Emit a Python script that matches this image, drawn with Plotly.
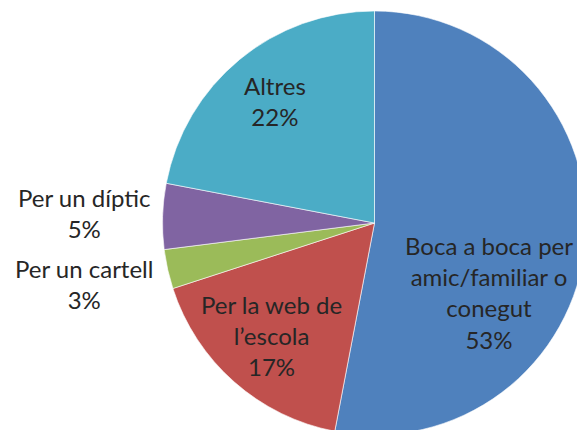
import plotly.graph_objects as go

# How respondents heard about the school
categories = [
    "Boca a boca per<br>amic/familiar o<br>conegut",
    "Per la web de<br>l\u2019escola",
    "Per un cartell",
    "Per un d\u00edptic",
    "Altres",
]
values = [53, 17, 3, 5, 22]
colors = ["#4F81BD", "#C0504D", "#9BBB59", "#8064A2", "#4BACC6"]

# label block centres in pixels (x, y from top)
label_pos = [(489, 292), (271, 335), (84, 284), (84, 213), (275, 101)]

W, H = 600, 440
cx, cy, r = 374.5, 223, 212

fig = go.Figure(
    go.Pie(
        labels=categories,
        values=values,
        sort=False,
        direction="clockwise",
        rotation=0,
        marker=dict(colors=colors, line=dict(color="white", width=0.6)),
        textinfo="none",
        hoverinfo="label+percent",
        showlegend=False,
        domain=dict(x=[(cx - r) / W, (cx + r) / W], y=[1 - (cy + r) / H, 1 - (cy - r) / H]),
    )
)

total = sum(values)
for name, v, (px, py) in zip(categories, values, label_pos):
    fig.add_annotation(
        text=f"{name}<br>{round(100 * v / total)}%",
        x=px / W,
        y=1 - py / H,
        xref="paper",
        yref="paper",
        xanchor="center",
        yanchor="middle",
        showarrow=False,
        align="center",
        font=dict(family="Lato", size=24, color="#262626"),
    )

fig.update_layout(
    width=W,
    height=H,
    margin=dict(l=0, r=0, t=0, b=0),
    paper_bgcolor="white",
    plot_bgcolor="white",
)

fig.write_html(
    "out.html",
    post_script="document.documentElement.style.overflow='hidden';document.body.style.overflow='hidden';document.body.style.margin='0';",
)
